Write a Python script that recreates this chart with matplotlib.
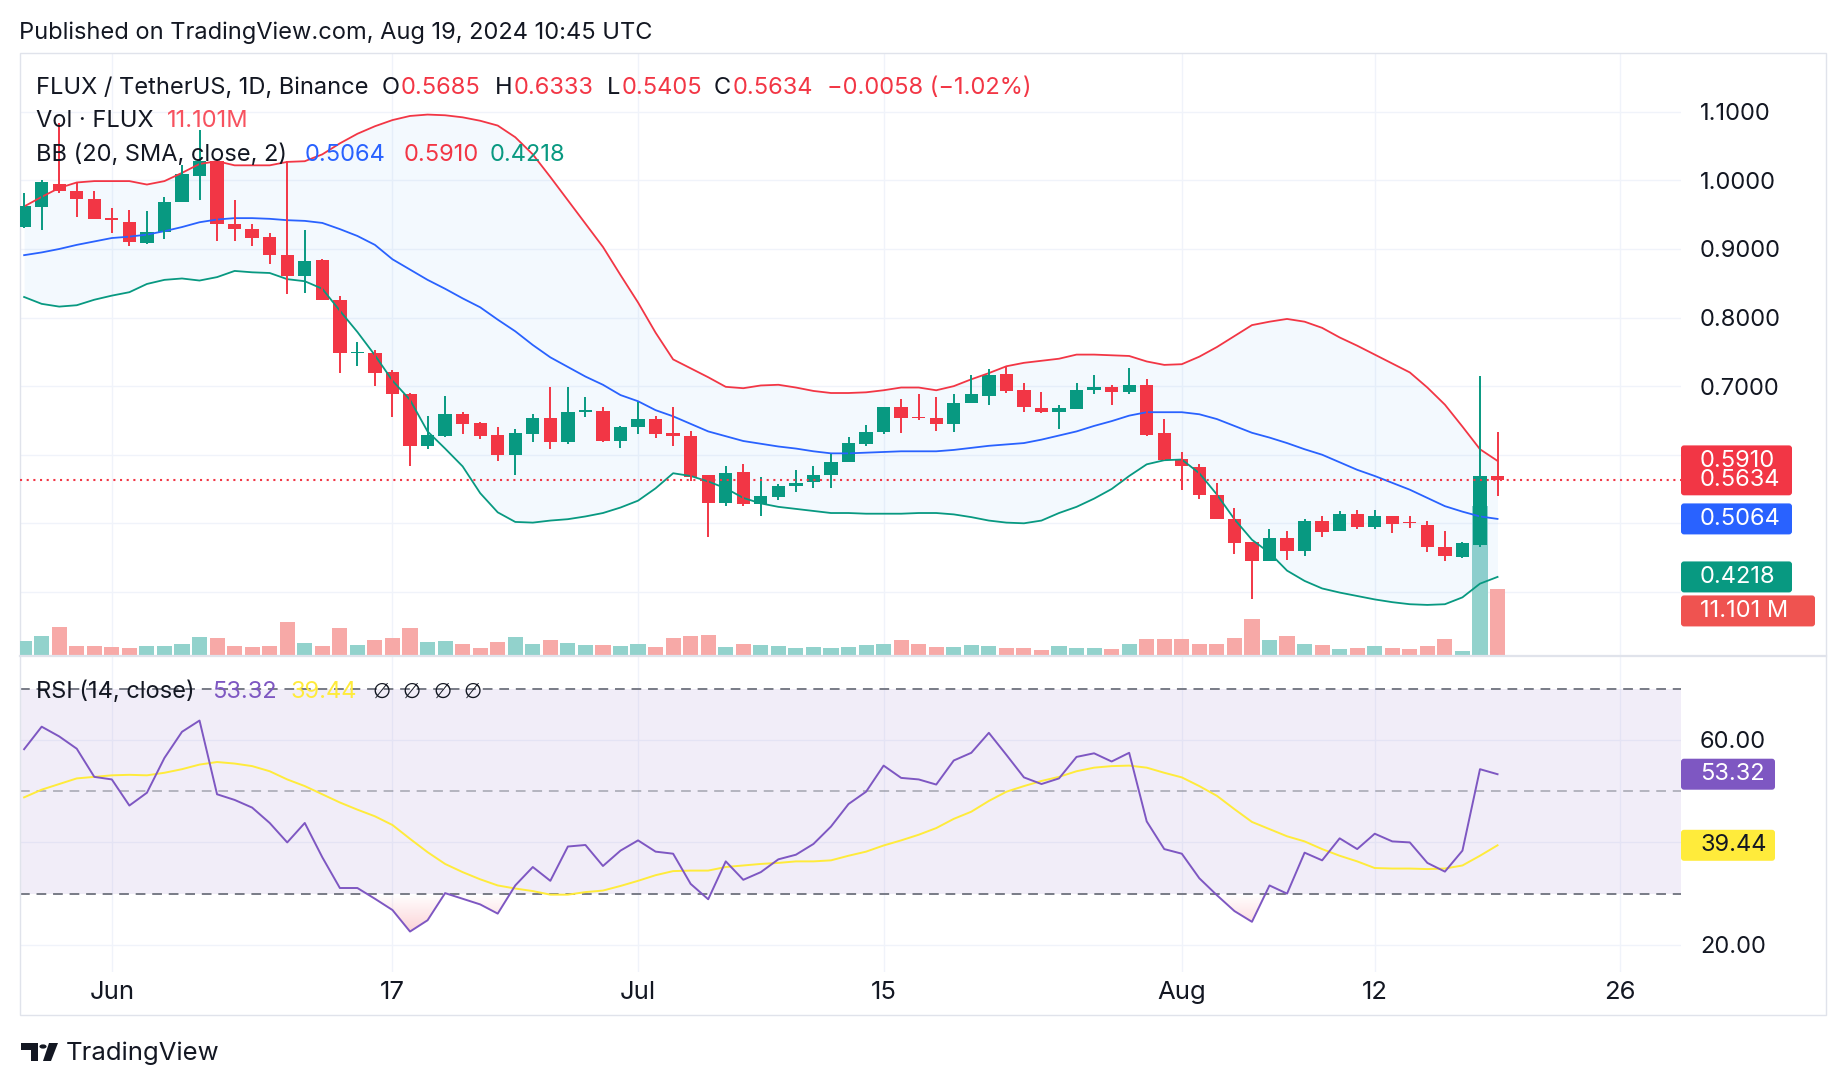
import numpy as np
import pandas as pd
import matplotlib
matplotlib.use('Agg')
import matplotlib.pyplot as plt
import matplotlib.dates as mdates
from matplotlib.patches import Rectangle, FancyBboxPatch, Circle, Polygon
from matplotlib.path import Path
from matplotlib.transforms import IdentityTransform

# FLUX/USDT daily, 27 May - 19 Aug 2024
start_date = '2024-05-27'
opens = [0.932, 0.961, 0.995, 0.984, 0.973, 0.943, 0.940, 0.909, 0.925, 0.968,
         1.007, 1.029, 0.937, 0.929, 0.917, 0.891, 0.861, 0.884, 0.825, 0.748,
         0.748, 0.720, 0.689, 0.613, 0.628, 0.660, 0.646, 0.629, 0.600, 0.630,
         0.653, 0.619, 0.662, 0.664, 0.620, 0.640, 0.652, 0.632, 0.628, 0.570,
         0.530, 0.575, 0.528, 0.538, 0.554, 0.560, 0.570, 0.589, 0.616, 0.633,
         0.670, 0.655, 0.654, 0.645, 0.676, 0.685, 0.717, 0.694, 0.668, 0.662,
         0.667, 0.694, 0.699, 0.691, 0.701, 0.631, 0.594, 0.582, 0.542, 0.507,
         0.473, 0.445, 0.479, 0.460, 0.503, 0.489, 0.513, 0.494, 0.511, 0.502,
         0.498, 0.465, 0.451, 0.469, 0.5685]
highs = [0.981, 1.000, 1.084, 0.996, 0.985, 0.960, 0.957, 0.956, 0.976, 1.022,
         1.074, 1.030, 0.971, 0.937, 0.924, 1.029, 0.927, 0.886, 0.832, 0.764,
         0.752, 0.723, 0.690, 0.656, 0.685, 0.663, 0.648, 0.641, 0.637, 0.660,
         0.699, 0.699, 0.684, 0.670, 0.642, 0.677, 0.657, 0.669, 0.635, 0.571,
         0.584, 0.587, 0.568, 0.558, 0.577, 0.583, 0.601, 0.626, 0.643, 0.670,
         0.681, 0.688, 0.684, 0.689, 0.716, 0.725, 0.729, 0.705, 0.692, 0.673,
         0.704, 0.716, 0.702, 0.727, 0.710, 0.652, 0.604, 0.587, 0.559, 0.523,
         0.473, 0.491, 0.489, 0.506, 0.511, 0.518, 0.520, 0.519, 0.511, 0.511,
         0.503, 0.489, 0.473, 0.715, 0.6333]
lows = [0.930, 0.928, 0.982, 0.946, 0.944, 0.923, 0.905, 0.907, 0.915, 0.968,
        0.972, 0.912, 0.912, 0.904, 0.878, 0.835, 0.836, 0.826, 0.719, 0.729,
        0.700, 0.655, 0.584, 0.608, 0.626, 0.630, 0.623, 0.591, 0.571, 0.618,
        0.609, 0.615, 0.655, 0.618, 0.610, 0.630, 0.625, 0.612, 0.562, 0.480,
        0.525, 0.525, 0.510, 0.534, 0.545, 0.551, 0.551, 0.589, 0.612, 0.630,
        0.631, 0.651, 0.634, 0.633, 0.676, 0.673, 0.690, 0.662, 0.661, 0.637,
        0.667, 0.689, 0.672, 0.689, 0.627, 0.592, 0.549, 0.536, 0.506, 0.455,
        0.389, 0.445, 0.446, 0.453, 0.480, 0.489, 0.491, 0.492, 0.486, 0.493,
        0.458, 0.445, 0.450, 0.465, 0.5405]
closes = [0.962, 0.997, 0.984, 0.973, 0.944, 0.942, 0.910, 0.925, 0.969, 1.009,
          1.028, 0.937, 0.929, 0.916, 0.891, 0.861, 0.883, 0.826, 0.748, 0.750,
          0.719, 0.689, 0.613, 0.629, 0.660, 0.645, 0.628, 0.600, 0.631, 0.653,
          0.619, 0.662, 0.664, 0.620, 0.640, 0.652, 0.630, 0.627, 0.568, 0.530,
          0.574, 0.528, 0.540, 0.554, 0.559, 0.571, 0.590, 0.617, 0.633, 0.670,
          0.653, 0.653, 0.645, 0.676, 0.688, 0.716, 0.693, 0.669, 0.662, 0.668,
          0.695, 0.699, 0.691, 0.701, 0.629, 0.592, 0.583, 0.541, 0.506, 0.471,
          0.445, 0.479, 0.460, 0.503, 0.487, 0.513, 0.494, 0.511, 0.499, 0.500,
          0.465, 0.452, 0.471, 0.5685, 0.5634]
# volume in millions
volumes = [2.48, 3.31, 4.80, 1.66, 1.66, 1.49, 1.32, 1.66, 1.66, 1.99,
           3.15, 2.98, 1.66, 1.49, 1.66, 5.63, 2.15, 1.66, 4.64, 1.82,
           2.65, 2.98, 4.64, 2.32, 2.48, 1.99, 1.32, 2.32, 3.15, 1.99,
           2.65, 2.15, 1.82, 1.82, 1.66, 1.99, 1.49, 2.98, 3.31, 3.48,
           1.49, 1.99, 1.82, 1.66, 1.32, 1.49, 1.32, 1.49, 1.82, 1.99,
           2.65, 1.99, 1.49, 1.49, 1.82, 1.66, 1.32, 1.32, 0.99, 1.66,
           1.32, 1.32, 1.16, 1.99, 2.82, 2.82, 2.82, 1.99, 1.99, 2.98,
           6.13, 2.65, 3.31, 1.99, 1.82, 1.16, 1.32, 1.66, 1.32, 1.16,
           1.66, 2.82, 0.83, 24.9, 11.101]
# Bollinger bands (20, 2)
bb_upper = [0.962, 0.976, 0.989, 0.997, 0.999, 0.999, 0.999, 0.994, 0.999, 1.011,
            1.024, 1.028, 1.022, 1.022, 1.022, 1.027, 1.028, 1.038, 1.054, 1.068,
            1.079, 1.088, 1.094, 1.096, 1.095, 1.092, 1.087, 1.080, 1.063, 1.038,
            1.005, 0.971, 0.937, 0.903, 0.862, 0.822, 0.778, 0.739, 0.726, 0.713,
            0.699, 0.697, 0.701, 0.702, 0.698, 0.693, 0.690, 0.690, 0.691, 0.694,
            0.698, 0.698, 0.694, 0.700, 0.710, 0.719, 0.729, 0.734, 0.737, 0.740,
            0.746, 0.746, 0.745, 0.744, 0.736, 0.731, 0.732, 0.743, 0.757, 0.773,
            0.789, 0.794, 0.798, 0.794, 0.785, 0.771, 0.759, 0.746, 0.733, 0.720,
            0.698, 0.673, 0.641, 0.608, 0.5910]
bb_basis = [0.891, 0.895, 0.900, 0.906, 0.911, 0.916, 0.918, 0.921, 0.926, 0.932,
            0.939, 0.943, 0.945, 0.945, 0.944, 0.942, 0.941, 0.938, 0.929, 0.919,
            0.906, 0.885, 0.870, 0.855, 0.842, 0.828, 0.815, 0.797, 0.780, 0.760,
            0.742, 0.728, 0.714, 0.702, 0.687, 0.678, 0.665, 0.656, 0.645, 0.634,
            0.627, 0.620, 0.616, 0.612, 0.609, 0.605, 0.602, 0.602, 0.603, 0.604,
            0.605, 0.605, 0.605, 0.607, 0.610, 0.613, 0.615, 0.617, 0.622, 0.628,
            0.634, 0.642, 0.649, 0.657, 0.662, 0.662, 0.662, 0.659, 0.652, 0.642,
            0.632, 0.625, 0.617, 0.608, 0.600, 0.589, 0.578, 0.569, 0.559, 0.549,
            0.537, 0.525, 0.517, 0.510, 0.5064]
bb_lower = [0.830, 0.820, 0.816, 0.818, 0.826, 0.832, 0.837, 0.849, 0.855, 0.857,
            0.854, 0.859, 0.868, 0.866, 0.865, 0.856, 0.853, 0.842, 0.810, 0.779,
            0.745, 0.708, 0.680, 0.634, 0.609, 0.583, 0.544, 0.516, 0.502, 0.501,
            0.504, 0.506, 0.510, 0.515, 0.523, 0.533, 0.551, 0.573, 0.569, 0.561,
            0.551, 0.537, 0.529, 0.524, 0.521, 0.518, 0.515, 0.515, 0.514, 0.514,
            0.514, 0.515, 0.515, 0.513, 0.509, 0.504, 0.501, 0.500, 0.504, 0.515,
            0.524, 0.536, 0.550, 0.569, 0.586, 0.592, 0.593, 0.573, 0.542, 0.506,
            0.476, 0.457, 0.431, 0.416, 0.405, 0.399, 0.394, 0.389, 0.385, 0.382,
            0.381, 0.382, 0.392, 0.412, 0.4218]
rsi = [58.2, 62.6, 60.7, 58.3, 52.8, 52.3, 47.2, 49.7, 56.5, 61.6,
       63.8, 49.4, 48.3, 46.8, 43.8, 40.0, 43.8, 37.1, 31.1, 31.1,
       29.0, 26.8, 22.6, 24.8, 30.1, 29.0, 27.9, 26.1, 31.6, 35.2,
       32.5, 39.2, 39.5, 35.4, 38.4, 40.4, 38.2, 37.8, 31.9, 28.9,
       36.3, 32.7, 34.2, 36.7, 37.6, 39.7, 43.1, 47.5, 49.9, 55.0,
       52.6, 52.3, 51.3, 56.0, 57.5, 61.4, 57.1, 52.7, 51.4, 52.5,
       56.7, 57.4, 55.8, 57.5, 44.1, 38.7, 37.8, 33.0, 29.7, 26.6,
       24.5, 31.6, 30.0, 38.0, 36.5, 40.8, 38.7, 41.7, 40.2, 40.0,
       36.0, 34.3, 38.4, 54.3, 53.32]
rsi_ma = [48.8, 50.3, 51.4, 52.5, 52.8, 53.1, 53.2, 53.1, 53.6, 54.3,
          55.2, 55.7, 55.4, 54.9, 53.9, 52.3, 51.0, 49.4, 47.8, 46.4,
          45.1, 43.4, 40.7, 38.1, 35.8, 34.2, 32.8, 31.6, 31.0, 30.5,
          29.8, 29.8, 30.3, 30.6, 31.5, 32.5, 33.6, 34.4, 34.5, 34.5,
          35.2, 35.5, 35.8, 36.0, 36.3, 36.3, 36.5, 37.4, 38.2, 39.4,
          40.4, 41.5, 42.8, 44.6, 46.0, 48.1, 49.9, 51.0, 52.0, 52.8,
          53.9, 54.6, 54.9, 55.0, 54.6, 53.6, 52.7, 51.0, 49.1, 46.5,
          44.0, 42.6, 41.2, 40.2, 38.7, 37.4, 36.3, 35.0, 34.9, 34.9,
          34.8, 34.9, 35.5, 37.4, 39.44]

tick_dates = ['2024-06-01', '2024-06-17', '2024-07-01', '2024-07-15',
              '2024-08-01', '2024-08-12', '2024-08-26']
tick_names = ['Jun', '17', 'Jul', '15', 'Aug', '12', '26']
price_ticks = [0.4, 0.5, 0.6, 0.7, 0.8, 0.9, 1.0, 1.1]
price_tick_labels = ['', '', '', '0.7000', '0.8000', '0.9000', '1.0000', '1.1000']
rsi_ticks = [20, 40, 60]
rsi_tick_labels = ['20.00', '', '60.00']

# colours
GREEN = '#089981'
RED = '#F23645'
BLUE = '#2962FF'
PURPLE = '#7E57C2'
YELLOW = '#FFEB3B'
TXT = '#131722'
GRID = '#F0F3FA'
BORDER = '#E0E3EB'

W, H = 1846, 1086
plt.rcParams['font.family'] = ['Inter', 'DejaVu Sans']
LEG = 17      # legend text size
AXS = 17      # price scale text size

o = np.array(opens); hi = np.array(highs); lo = np.array(lows); c = np.array(closes)
dates = pd.date_range(start_date, periods=len(opens), freq='D')
x = mdates.date2num(dates)
up = c >= o
cand_col = np.where(up, GREEN, RED)
vol_col = np.where(up, '#92D2CC', '#F7A9A7')

def fx(px):
    return px / W

def fy(py):
    return 1 - py / H

fig = plt.figure(figsize=(W / 100, H / 100), dpi=100)
fig.patch.set_facecolor('white')

L, R = 20, 1681
main_top, main_bot, rsi_bot = 53, 656, 972
pos_main = [fx(L), fy(main_bot), fx(R) - fx(L), fy(main_top) - fy(main_bot)]
pos_rsi = [fx(L), fy(rsi_bot), fx(R) - fx(L), fy(main_bot) - fy(rsi_bot)]

ax_bg = fig.add_axes(pos_main)
ax_vol = fig.add_axes(pos_main, sharex=ax_bg)
ax = fig.add_axes(pos_main, sharex=ax_bg)
axr = fig.add_axes(pos_rsi, sharex=ax_bg)
ax_bg.set_zorder(1); ax_vol.set_zorder(2); ax.set_zorder(3)
ax_vol.patch.set_visible(False); ax.patch.set_visible(False)

xlim = (x[0] - 0.235, x[0] + 94.46)
ylim = (0.3065, 1.1858)
tick_x = mdates.date2num(pd.to_datetime(tick_dates))

# background grid / price scale
ax_bg.set_ylim(*ylim)
ax_bg.set_yticks(price_ticks)
ax_bg.set_yticklabels(price_tick_labels)
ax_bg.yaxis.tick_right()
ax_bg.set_xticks(tick_x)
ax_bg.grid(True, color=GRID, lw=1.0)
ax_bg.tick_params(axis='y', length=0, pad=13.5, labelsize=AXS, labelcolor=TXT)
ax_bg.tick_params(axis='x', length=0, labelbottom=False)

# volume
ax_vol.bar(x, volumes, width=0.86, color=vol_col, linewidth=0)
ax_vol.set_ylim(0, 100)
ax_vol.axis('off')

# bollinger bands
ax.fill_between(x, bb_upper, bb_lower, color='#2196F3', alpha=0.05, lw=0)
ax.plot(x, bb_upper, color=RED, lw=1.3)
ax.plot(x, bb_basis, color=BLUE, lw=1.3)
ax.plot(x, bb_lower, color=GREEN, lw=1.3)

# candles
ax.vlines(x, lo, hi, colors=cand_col, lw=1.4)
body = np.maximum(np.abs(c - o), 0.0025)
ax.bar(x, body, bottom=np.minimum(o, c), width=0.76, color=cand_col, linewidth=0)
ax.axhline(closes[-1], color=RED, lw=1.5, ls=(0, (1, 2.2)))
ax.set_ylim(*ylim)
ax.axis('off')

# RSI pane
rsi_a = np.array(rsi)
axr.axhspan(30, 70, color=PURPLE, alpha=0.1, lw=0)
axr.axhline(70, color='#787B86', lw=1.4, ls=(0, (5, 3.5)))
axr.axhline(50, color='#787B86', lw=1.4, ls=(0, (5, 3.5)), alpha=0.5)
axr.axhline(30, color='#787B86', lw=1.4, ls=(0, (5, 3.5)))
low_fill = axr.fill_between(x, rsi_a, 30, where=rsi_a < 30, interpolate=True,
                            color='none', lw=0)
grad = np.zeros((64, 1, 4))
grad[:, 0, :3] = (0.949, 0.212, 0.271)
grad[:, 0, 3] = np.linspace(0.45, 0.0, 64)
clip = Path.make_compound_path(*low_fill.get_paths())
im = axr.imshow(grad, extent=[x[0], x[-1], 14.7, 30], origin='lower',
                aspect='auto', zorder=1.5)
im.set_clip_path(clip, transform=axr.transData)
axr.plot(x, rsi_ma, color=YELLOW, lw=1.4, zorder=3)
axr.plot(x, rsi, color=PURPLE, lw=1.4, zorder=4)
axr.set_ylim(14.7, 76.4)
axr.set_yticks(rsi_ticks)
axr.set_yticklabels(rsi_tick_labels)
axr.yaxis.tick_right()
axr.set_xticks(tick_x)
axr.set_xticklabels(tick_names)
axr.grid(True, color=GRID, lw=1.0)
axr.set_axisbelow(True)
axr.tick_params(axis='y', length=0, pad=13.5, labelsize=AXS, labelcolor=TXT)
axr.tick_params(axis='x', length=0, pad=6.5, labelsize=18.5, labelcolor=TXT)
axr.set_xlim(*xlim)
ax_bg.set_xlim(*xlim)

for a in (ax_bg, ax_vol, ax, axr):
    for s in a.spines.values():
        s.set_visible(False)

# frame and pane separator
fig.patches.append(Rectangle((fx(20), fy(1015)), fx(1826) - fx(20), fy(53) - fy(1015),
                             transform=fig.transFigure, fill=False, ec=BORDER, lw=1.0))
fig.lines.append(plt.Line2D([fx(20), fx(1826)], [fy(656), fy(656)],
                            transform=fig.transFigure, color=BORDER, lw=1.6))

# value tags on the right scale
def tag(axis, val, label, fc, tc='white', w=111, shift=0):
    yd = axis.transData.transform((0, val))[1] - shift
    box = FancyBboxPatch((R, yd - 15.5), w, 31, boxstyle='round,pad=0,rounding_size=3',
                         transform=IdentityTransform(), fc=fc, ec='none', zorder=10)
    fig.patches.append(box)
    fig.text(1700 / W, yd / H, label, color=tc, fontsize=AXS, va='center', ha='left',
             zorder=11)

tag(ax, bb_upper[-1], '0.5910', RED)
tag(ax, closes[-1], '0.5634', RED)
tag(ax, bb_basis[-1], '0.5064', BLUE)
tag(ax, bb_lower[-1], '0.4218', GREEN)
tag(ax, bb_lower[-1], '11.101 M', '#EF5350', w=134, shift=34)
tag(axr, rsi[-1], '53.32', PURPLE, w=94)
tag(axr, rsi_ma[-1], '39.44', YELLOW, tc=TXT, w=94)

# legend rows
rend = fig.canvas.get_renderer()

def runs(x0, y, parts, size=LEG):
    xc = x0
    for s, col in parts:
        t = fig.text(fx(xc), fy(y), s, color=col, fontsize=size, va='center', ha='left')
        xc += t.get_window_extent(renderer=rend).width + 1

fig.text(fx(19), fy(33), 'Published on TradingView.com, Aug 19, 2024 10:45 UTC',
         color=TXT, fontsize=LEG, va='center')
runs(36, 88, [('FLUX / TetherUS, 1D, Binance', TXT)])
runs(382, 88, [('O', TXT), ('0.5685', RED)])
runs(495, 88, [('H', TXT), ('0.6333', RED)])
runs(607, 88, [('L', TXT), ('0.5405', RED)])
runs(714, 88, [('C', TXT), ('0.5634', RED)])
runs(827, 88, [('\u22120.0058 (\u22121.02%)', RED)])
runs(36, 121, [('Vol \u00b7 FLUX', TXT)])
runs(167, 121, [('11.101M', '#F7525F')])
runs(36, 155, [('BB (20, SMA, close, 2)', TXT)])
runs(305, 155, [('0.5064', BLUE)])
runs(404, 155, [('0.5910', RED)])
runs(490, 155, [('0.4218', GREEN)])
runs(36, 692, [('RSI (14, close)', TXT)])
runs(212, 692, [('53.32', PURPLE)])
runs(291, 692, [('39.44', YELLOW)])
for xs in (372, 402, 433, 463):
    fig.text(fx(xs), fy(692), '\u2205', color=TXT, fontsize=15, va='center',
             family=['DejaVu Sans'])

# TradingView logo + wordmark
fig.patches.append(Polygon([(fx(21), fy(1043)), (fx(38), fy(1043)), (fx(38), fy(1061)),
                            (fx(31), fy(1061)), (fx(31), fy(1050)), (fx(21), fy(1050))],
                           closed=True, transform=fig.transFigure, fc=TXT, ec='none'))
fig.patches.append(Circle((fx(43), fy(1046.5)), 3.6 / W, transform=fig.transFigure,
                          fc=TXT, ec='none'))
fig.patches.append(Polygon([(fx(49), fy(1043)), (fx(58), fy(1043)), (fx(51), fy(1061)),
                            (fx(43), fy(1061))],
                           closed=True, transform=fig.transFigure, fc=TXT, ec='none'))
fig.text(fx(66), fy(1053), 'TradingView', color=TXT, fontsize=18.5, va='center')

fig.savefig('out.png', dpi=100, facecolor='white')
